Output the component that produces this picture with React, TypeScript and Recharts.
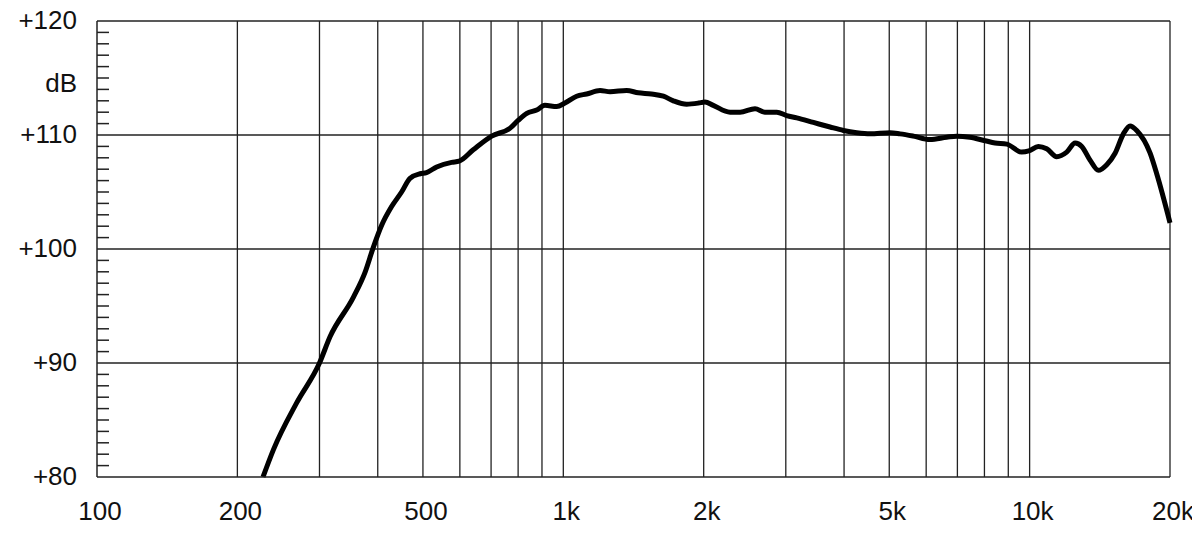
import React from 'react'
import { LineChart, Line, XAxis, YAxis, ReferenceLine } from 'recharts'

// frequency response (Hz, dB)
const freqs = [
  227, 239, 268, 300, 316, 355, 376, 391, 408, 428, 450, 469, 493, 509, 535, 576, 598,
  641, 702, 769, 801, 835, 877, 913, 968, 1008, 1068, 1122, 1199, 1260, 1367, 1448, 1545,
  1639, 1722, 1839, 1948, 2013, 2097, 2278, 2393, 2577, 2707, 2869, 3013, 3167, 3438,
  3733, 3987, 4258, 4548, 5020, 5273, 5632, 6114, 6637, 6973, 7447, 8025, 8432, 8932,
  9617, 9960, 10440, 10880, 11430, 12010, 12520, 12935, 13476, 14045, 14636, 15250,
  15888, 16420, 16970, 18130, 18730, 20000
]
const levels = [
  80.0, 82.4, 86.5, 90.0, 92.3, 95.8, 98.0, 100.1, 102.1, 103.7, 105.0, 106.2, 106.6, 106.7, 107.2, 107.6, 107.7,
  108.7, 109.9, 110.6, 111.3, 111.9, 112.2, 112.6, 112.5, 112.8, 113.4, 113.6, 113.9, 113.8, 113.9, 113.7, 113.6,
  113.4, 113.0, 112.7, 112.8, 112.9, 112.6, 112.0, 112.0, 112.3, 112.0, 112.0, 111.7, 111.5, 111.1,
  110.7, 110.4, 110.2, 110.1, 110.2, 110.1, 109.9, 109.6, 109.8, 109.9, 109.8, 109.5, 109.3, 109.2,
  108.5, 108.6, 109.0, 108.8, 108.1, 108.5, 109.3, 109.0, 107.8, 106.9, 107.4, 108.4,
  110.1, 110.8, 110.4, 108.4, 106.6, 102.3
]

const xTicks = [100, 200, 500, 1000, 2000, 5000, 10000, 20000]
const xTickLabels = ['100', '200', '500', '1k', '2k', '5k', '10k', '20k']
const gridFreqs = [200, 300, 400, 500, 600, 700, 800, 900, 1000, 2000, 3000, 4000, 5000, 6000, 7000, 8000, 9000, 10000, 20000]
const gridLevels = [90, 100, 110, 120]
const yTicks = Array.from({ length: 41 }, (_, i) => 80 + i) // 1 dB minor ticks

const data = freqs.map((f, i) => ({ f, db: levels[i] }))

const W = 1200
const H = 535
const margin = { top: 21, right: 30, bottom: 18, left: 0 }
const Y_AXIS_W = 97
const AXIS_X = margin.left + Y_AXIS_W
const FONT = '"Liberation Sans", Arial, sans-serif'
const INK = '#222'

const YTick = (props: any) => {
  const { y, payload } = props
  const v = payload.value
  const major = v % 10 === 0
  return (
    <g>
      {!major && <line x1={AXIS_X} x2={AXIS_X + 12} y1={y} y2={y} stroke={INK} strokeWidth={1.5} />}
      {major && (
        <text x={AXIS_X - 20} y={y + 8} textAnchor="end" fontFamily={FONT} fontSize={26} fill="#111">
          +{v}
        </text>
      )}
      {v === 115 && (
        <text x={AXIS_X - 20} y={y + 14} textAnchor="end" fontFamily={FONT} fontSize={26} fill="#111">
          dB
        </text>
      )}
    </g>
  )
}

const XTick = (props: any) => {
  const { x, y, payload } = props
  const idx = xTicks.indexOf(payload.value)
  return (
    <text x={x + 3} y={y + 43} textAnchor="middle" fontFamily={FONT} fontSize={26} fill="#111">
      {xTickLabels[idx]}
    </text>
  )
}

export default function App() {
  return (
    <div style={{ margin: -8, width: W, height: H, overflow: 'hidden' }}>
      <LineChart width={W} height={H} data={data} margin={margin}>
        <XAxis
          dataKey="f"
          type="number"
          scale="log"
          domain={[100, 20000]}
          ticks={xTicks}
          interval={0}
          height={40}
          tickLine={false}
          tickSize={0}
          tickMargin={0}
          axisLine={{ stroke: INK, strokeWidth: 1.5 }}
          tick={(p: any) => <XTick {...p} />}
        />
        <YAxis
          type="number"
          domain={[80, 120]}
          ticks={yTicks}
          interval={0}
          width={Y_AXIS_W}
          tickLine={false}
          tickSize={0}
          tickMargin={0}
          axisLine={{ stroke: INK, strokeWidth: 1.5 }}
          tick={(p: any) => <YTick {...p} />}
        />
        {gridFreqs.map((f) => (
          <ReferenceLine key={'v' + f} x={f} stroke={INK} strokeWidth={1.3} />
        ))}
        {gridLevels.map((l) => (
          <ReferenceLine key={'h' + l} y={l} stroke={INK} strokeWidth={1.3} />
        ))}
        <Line
          type="monotone"
          dataKey="db"
          stroke="#000"
          strokeWidth={5}
          dot={false}
          isAnimationActive={false}
        />
      </LineChart>
    </div>
  )
}
